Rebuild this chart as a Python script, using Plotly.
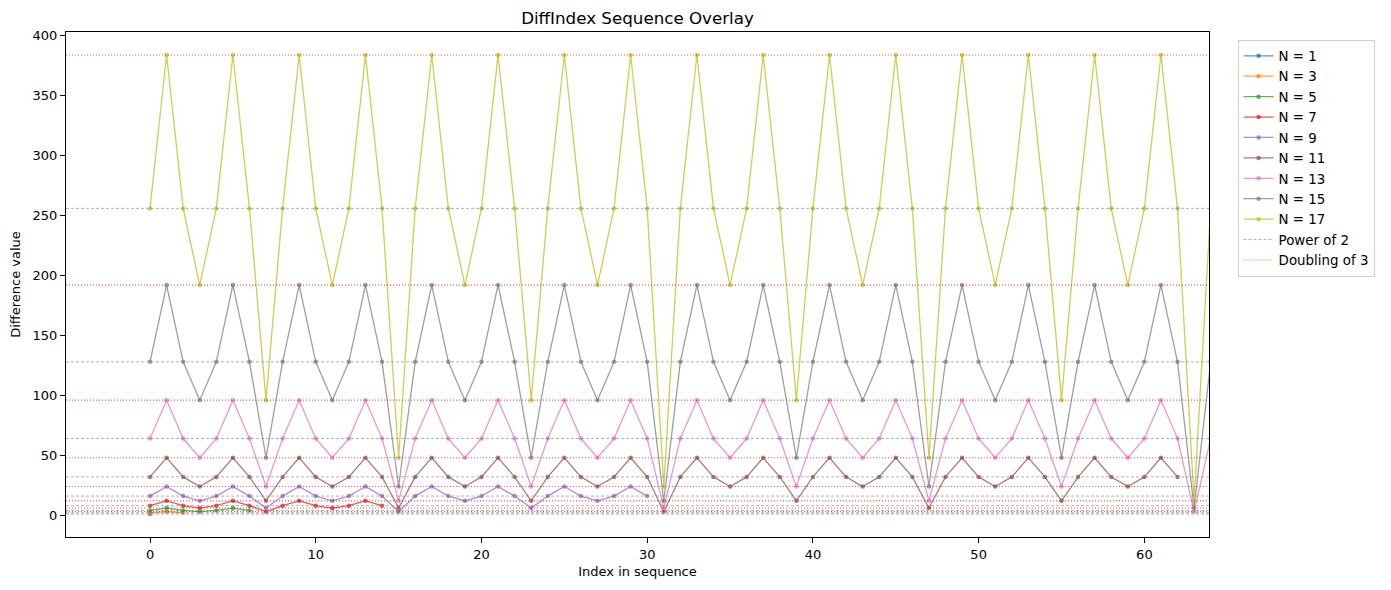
import plotly.graph_objects as go

# ---- data ----
n_labels = ["N = 1", "N = 3", "N = 5", "N = 7", "N = 9", "N = 11", "N = 13", "N = 15", "N = 17"]

seq_n1 = [1]
seq_n3 = [2, 3, 2]
seq_n5 = [4, 6, 4, 3, 4, 6, 4]
seq_n7 = [8, 12, 8, 6, 8, 12, 8, 3, 8, 12, 8, 6, 8, 12, 8]
seq_n9 = [16, 24, 16, 12, 16, 24, 16, 6, 16, 24, 16, 12, 16, 24, 16, 3,
          16, 24, 16, 12, 16, 24, 16, 6, 16, 24, 16, 12, 16, 24, 16]
seq_n11 = [32, 48, 32, 24, 32, 48, 32, 12, 32, 48, 32, 24, 32, 48, 32, 6,
           32, 48, 32, 24, 32, 48, 32, 12, 32, 48, 32, 24, 32, 48, 32, 3,
           32, 48, 32, 24, 32, 48, 32, 12, 32, 48, 32, 24, 32, 48, 32, 6,
           32, 48, 32, 24, 32, 48, 32, 12, 32, 48, 32, 24, 32, 48, 32]
seq_n13 = [64, 96, 64, 48, 64, 96, 64, 24, 64, 96, 64, 48, 64, 96, 64, 12,
           64, 96, 64, 48, 64, 96, 64, 24, 64, 96, 64, 48, 64, 96, 64, 6,
           64, 96, 64, 48, 64, 96, 64, 24, 64, 96, 64, 48, 64, 96, 64, 12,
           64, 96, 64, 48, 64, 96, 64, 24, 64, 96, 64, 48, 64, 96, 64, 3,
           64]
seq_n15 = [128, 192, 128, 96, 128, 192, 128, 48, 128, 192, 128, 96, 128, 192, 128, 24,
           128, 192, 128, 96, 128, 192, 128, 48, 128, 192, 128, 96, 128, 192, 128, 12,
           128, 192, 128, 96, 128, 192, 128, 48, 128, 192, 128, 96, 128, 192, 128, 24,
           128, 192, 128, 96, 128, 192, 128, 48, 128, 192, 128, 96, 128, 192, 128, 6,
           128]
seq_n17 = [256, 384, 256, 192, 256, 384, 256, 96, 256, 384, 256, 192, 256, 384, 256, 48,
           256, 384, 256, 192, 256, 384, 256, 96, 256, 384, 256, 192, 256, 384, 256, 24,
           256, 384, 256, 192, 256, 384, 256, 96, 256, 384, 256, 192, 256, 384, 256, 48,
           256, 384, 256, 192, 256, 384, 256, 96, 256, 384, 256, 192, 256, 384, 256, 12,
           256]

all_series = [seq_n1, seq_n3, seq_n5, seq_n7, seq_n9, seq_n11, seq_n13, seq_n15, seq_n17]

powers_of_2 = [1, 2, 4, 8, 16, 32, 64, 128, 256]
doubling_of_3 = [3, 6, 12, 24, 48, 96, 192, 384]

x_ticks = [0, 10, 20, 30, 40, 50, 60]
y_ticks = [0, 50, 100, 150, 200, 250, 300, 350, 400]

# ---- styling ----
colors = ["rgba(31,119,180,0.75)", "rgba(255,127,14,0.75)", "rgba(44,160,44,0.75)",
          "rgba(214,39,40,0.75)", "rgba(148,103,189,0.75)", "rgba(140,86,75,0.75)",
          "rgba(227,119,194,0.75)", "rgba(127,127,127,0.75)", "rgba(188,189,34,0.75)"]

x_range = [-5.07, 63.9]
y_range = [-18.15, 403.15]

fig = go.Figure()

for label, seq, col in zip(n_labels, all_series, colors):
    fig.add_trace(go.Scatter(
        x=list(range(len(seq))), y=seq, mode="lines+markers", name=label,
        line=dict(color=col, width=1.3),
        marker=dict(color=col, size=4.5),
        cliponaxis=True,
    ))

for i, v in enumerate(powers_of_2):
    fig.add_trace(go.Scatter(
        x=x_range, y=[v, v], mode="lines", name="Power of 2",
        legendgroup="p2", showlegend=(i == 0),
        line=dict(color="rgba(128,128,128,0.6)", width=1, dash="3px,2px"),
        hoverinfo="skip",
    ))

for i, v in enumerate(doubling_of_3):
    fig.add_trace(go.Scatter(
        x=x_range, y=[v, v], mode="lines", name="Doubling of 3",
        legendgroup="d3", showlegend=(i == 0),
        line=dict(color="rgba(255,0,0,0.65)", width=1.1, dash="1px,2px"),
        hoverinfo="skip",
    ))

axis_common = dict(
    showgrid=False, zeroline=False, showline=True, linecolor="black", linewidth=1.2,
    mirror=True, ticks="outside", ticklen=5, tickwidth=1, tickcolor="black",
    tickfont=dict(family="DejaVu Sans", size=13, color="black"),
)

fig.update_layout(
    width=1391, height=590, autosize=False,
    margin=dict(l=66, r=182, t=32, b=53),
    paper_bgcolor="white", plot_bgcolor="white",
    font=dict(family="DejaVu Sans", size=13, color="black"),
    title=dict(text="DiffIndex Sequence Overlay", x=0.4583, xanchor="center",
               y=1 - 18 / 590, yanchor="middle",
               font=dict(family="DejaVu Sans", size=16.7, color="black")),
    xaxis=dict(range=x_range, tickvals=x_ticks, ticktext=[str(t) for t in x_ticks],
               title=dict(text="Index in sequence", standoff=6,
                          font=dict(family="DejaVu Sans", size=13)),
               **axis_common),
    yaxis=dict(range=y_range, tickvals=y_ticks, ticktext=[str(t) for t in y_ticks],
               title=dict(text="Difference value", standoff=8,
                          font=dict(family="DejaVu Sans", size=13)),
               **axis_common),
    legend=dict(x=1.025, y=0.985, xanchor="left", yanchor="top",
                bordercolor="#d0d0d0", borderwidth=1, bgcolor="white",
                font=dict(family="DejaVu Sans", size=13.4), tracegroupgap=0,
                itemwidth=30),
    showlegend=True,
)

fig.write_html("out.html")
